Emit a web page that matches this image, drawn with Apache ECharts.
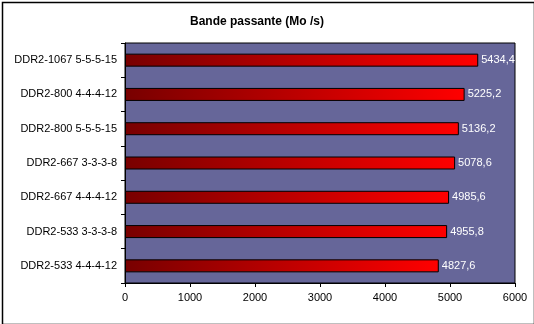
<!DOCTYPE html>
<html>
<head>
<meta charset="utf-8">
<script src="https://cdn.jsdelivr.net/npm/echarts@6/dist/echarts.min.js"></script>
<style>
html,body{margin:0;padding:0;background:#fff;}
#c{width:534px;height:324px;}
</style>
</head>
<body>
<div id="c"></div>
<script>
const titleText = 'Bande passante (Mo /s)';
const categories = ['DDR2-1067 5-5-5-15','DDR2-800 4-4-4-12','DDR2-800 5-5-5-15','DDR2-667 3-3-3-8','DDR2-667 4-4-4-12','DDR2-533 3-3-3-8','DDR2-533 4-4-4-12'];
const values = [5434.4, 5225.2, 5136.2, 5078.6, 4985.6, 4955.8, 4827.6];
const xTicks = [0, 1000, 2000, 3000, 4000, 5000, 6000];

const chart = echarts.init(document.getElementById('c'));
const font = 'Liberation Sans, Arial, sans-serif';
chart.setOption({
  animation: false,
  backgroundColor: '#fff',
  graphic: [{
    type: 'rect', left: 0, top: 0, z: 100, silent: true,
    shape: {x: 0.5, y: 0.5, width: 532, height: 322},
    style: {fill: 'none', stroke: '#000', lineWidth: 1.5}
  }, {
    type: 'text', left: 190, top: 16, z: 100,
    style: {text: titleText, font: 'bold 12px Liberation Sans, Arial, sans-serif', fill: '#000'}
  }],
  grid: {
    left: 125, right: 19, top: 43, bottom: 41,
    show: true, backgroundColor: '#666699', borderColor: '#000', borderWidth: 1
  },
  xAxis: {
    type: 'value', min: xTicks[0], max: xTicks[xTicks.length - 1], interval: 1000,
    axisLine: {show: true, lineStyle: {color: '#000'}},
    axisTick: {show: true, length: 4, lineStyle: {color: '#000'}},
    splitLine: {show: false},
    axisLabel: {fontFamily: font, fontSize: 11, color: '#000', margin: 9, formatter: v => String(v)}
  },
  yAxis: {
    type: 'category', data: categories, inverse: true,
    axisLine: {show: true, lineStyle: {color: '#000'}},
    axisTick: {show: true, length: 4, lineStyle: {color: '#000'}},
    axisLabel: {fontFamily: font, fontSize: 11, color: '#000', margin: 8}
  },
  series: [{
    type: 'bar', data: values, barWidth: 13,
    itemStyle: {
      borderColor: '#000', borderWidth: 1,
      color: new echarts.graphic.LinearGradient(0, 0, 1, 0, [
        {offset: 0, color: '#780000'},
        {offset: 1, color: '#ff0000'}
      ])
    },
    label: {
      show: true, position: 'right', distance: 3,
      fontFamily: font, fontSize: 11, color: '#fff',
      formatter: p => String(p.value.toFixed(1)).replace('.', ',')
    }
  }]
});
</script>
</body>
</html>
